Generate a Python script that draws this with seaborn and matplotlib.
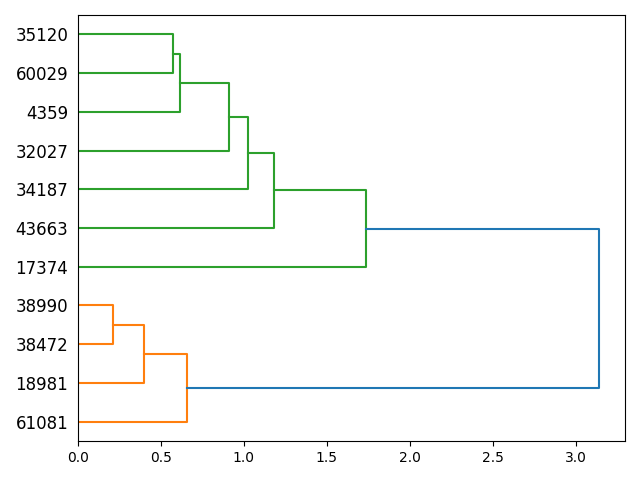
import matplotlib
matplotlib.use("Agg")
import matplotlib.pyplot as plt
import seaborn as sns
import pandas as pd

# Leaf labels in display order (bottom to top)
leaf_labels = ["61081", "18981", "38472", "38990", "17374", "43663",
               "34187", "32027", "4359", "60029", "35120"]

# Merges: (left child id, right child id), new ids start at len(leaf_labels)
merge_left = [2, 1, 0, 9, 8, 7, 6, 5, 4, 13]
merge_right = [3, 11, 12, 10, 14, 15, 16, 17, 18, 19]
merge_height = [0.210, 0.397, 0.655, 0.573, 0.616, 0.911, 1.027, 1.183, 1.738, 3.14]

cluster_colors = ["#ff7f0e", "#2ca02c"]
above_color = "#1f77b4"

n = len(leaf_labels)
pos = {i: 5 + 10 * i for i in range(n)}
hgt = {i: 0.0 for i in range(n)}
threshold = 0.7 * max(merge_height)

# assign cluster colors to the subtrees below threshold
members = {i: [i] for i in range(n)}
for k, (a, b) in enumerate(zip(merge_left, merge_right)):
    members[n + k] = members[a] + members[b]

link_color = {}
cluster_idx = 0
# find cluster roots (nodes below threshold whose parent is above)
parent_h = {}
for k, (a, b) in enumerate(zip(merge_left, merge_right)):
    parent_h[a] = merge_height[k]
    parent_h[b] = merge_height[k]
node_cluster = {}
for k in range(len(merge_height)):
    node = n + k
    if merge_height[k] < threshold and parent_h.get(node, 1e9) >= threshold:
        # collect all link nodes under it
        stack = [node]
        while stack:
            c = stack.pop()
            node_cluster[c] = cluster_colors[cluster_idx]
            if c >= n:
                kk = c - n
                stack += [merge_left[kk], merge_right[kk]]
        cluster_idx += 1

fig = plt.figure(figsize=(6.4, 4.8), dpi=100)
ax = fig.add_axes([78 / 640, 1 - 441 / 480, (625 - 78) / 640, (441 - 15) / 480])

for k, (a, b) in enumerate(zip(merge_left, merge_right)):
    node = n + k
    h = merge_height[k]
    pos[node] = (pos[a] + pos[b]) / 2
    hgt[node] = h
    color = node_cluster.get(node, above_color)
    df = pd.DataFrame({"x": [hgt[a], h, h, hgt[b]],
                       "y": [pos[a], pos[a], pos[b], pos[b]]})
    sns.lineplot(data=df, x="x", y="y", sort=False, estimator=None,
                 color=color, linewidth=1.5, ax=ax)

ax.set_xlim(0, max(merge_height) * 1.05)
ax.set_ylim(0, 10 * n)
ax.set_yticks([5 + 10 * i for i in range(n)])
ax.set_yticklabels(leaf_labels, fontsize=12)
ax.tick_params(axis="y", left=False)
ax.set_xlabel("")
ax.set_ylabel("")

fig.savefig("out.png", dpi=100)
